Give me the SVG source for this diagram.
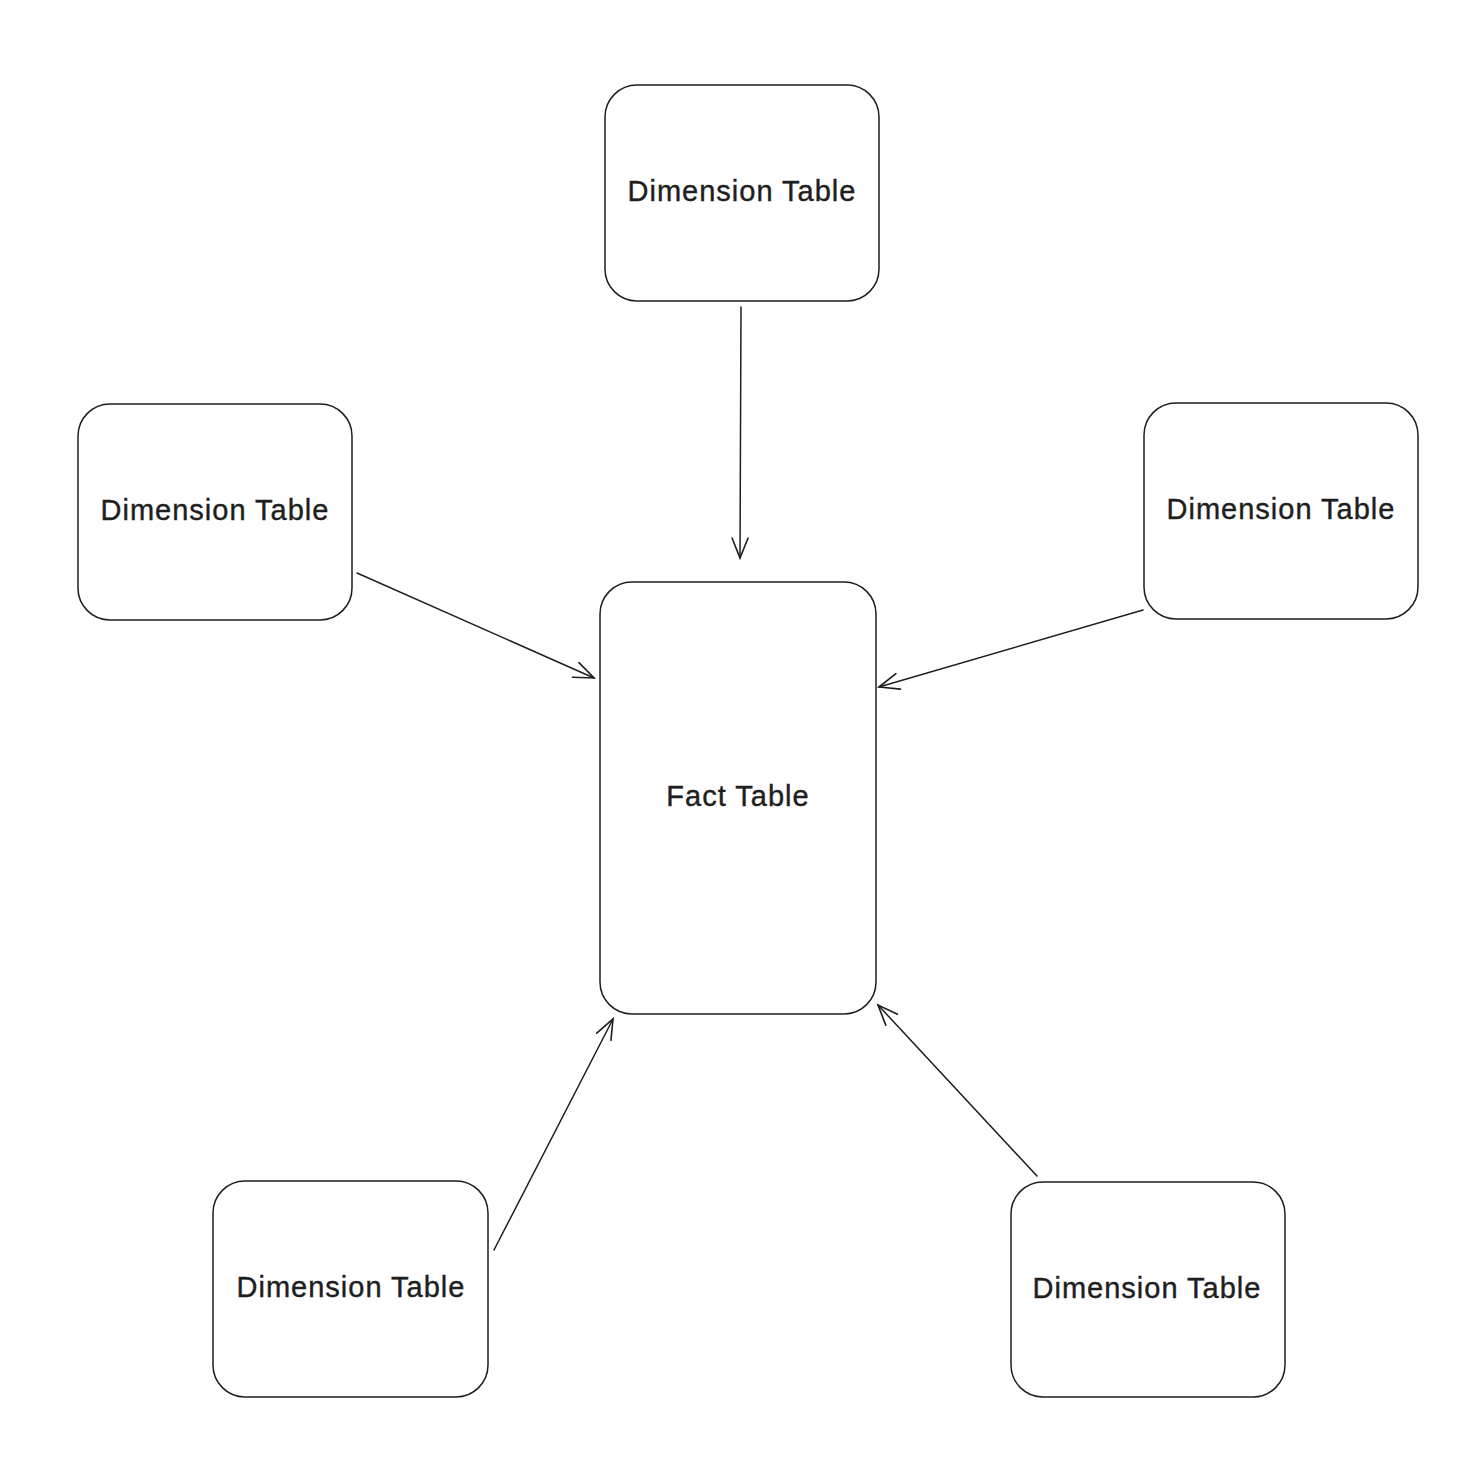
<svg xmlns="http://www.w3.org/2000/svg" width="1482" height="1474" viewBox="0 0 1482 1474">
<style>
.box{fill:none;stroke:#1e1e1e;stroke-width:1.5}
.lbl{font-family:"Liberation Sans","DejaVu Sans",sans-serif;font-size:29px;letter-spacing:1px;fill:#1e1e1e;stroke:#1e1e1e;stroke-width:0.4;text-anchor:middle;dominant-baseline:central}
.edge{fill:none;stroke:#1e1e1e;stroke-width:1.5;stroke-linecap:round}
</style>
<defs>
<marker id="arr" markerUnits="userSpaceOnUse" markerWidth="30" markerHeight="30" refX="22" refY="12" orient="auto" viewBox="0 0 30 24">
<path d="M2,4 L22,12 L2,20" fill="none" stroke="#1e1e1e" stroke-width="1.6" stroke-linecap="round"/>
</marker>
</defs>
<rect width="1482" height="1474" fill="#ffffff"/>
<g id="connectors">
<line class="edge" x1="741" y1="307" x2="740" y2="558" marker-end="url(#arr)"/>
<line class="edge" x1="357" y1="573" x2="594" y2="678" marker-end="url(#arr)"/>
<line class="edge" x1="1143" y1="610" x2="879" y2="687" marker-end="url(#arr)"/>
<line class="edge" x1="494" y1="1250" x2="613" y2="1019" marker-end="url(#arr)"/>
<line class="edge" x1="1037" y1="1176" x2="878" y2="1005" marker-end="url(#arr)"/>
</g>
<g id="dim-top">
<rect class="box" x="605" y="85" width="274" height="216" rx="32"/>
<text class="lbl" x="742" y="191">Dimension Table</text>
</g>
<g id="dim-left">
<rect class="box" x="78" y="404" width="274" height="216" rx="32"/>
<text class="lbl" x="215" y="510">Dimension Table</text>
</g>
<g id="dim-right">
<rect class="box" x="1144" y="403" width="274" height="216" rx="32"/>
<text class="lbl" x="1281" y="509">Dimension Table</text>
</g>
<g id="fact">
<rect class="box" x="600" y="582" width="276" height="432" rx="32"/>
<text class="lbl" x="738" y="796">Fact Table</text>
</g>
<g id="dim-bottom-left">
<rect class="box" x="213" y="1181" width="275" height="216" rx="32"/>
<text class="lbl" x="351" y="1287">Dimension Table</text>
</g>
<g id="dim-bottom-right">
<rect class="box" x="1011" y="1182" width="274" height="215" rx="32"/>
<text class="lbl" x="1147" y="1288">Dimension Table</text>
</g>
</svg>
